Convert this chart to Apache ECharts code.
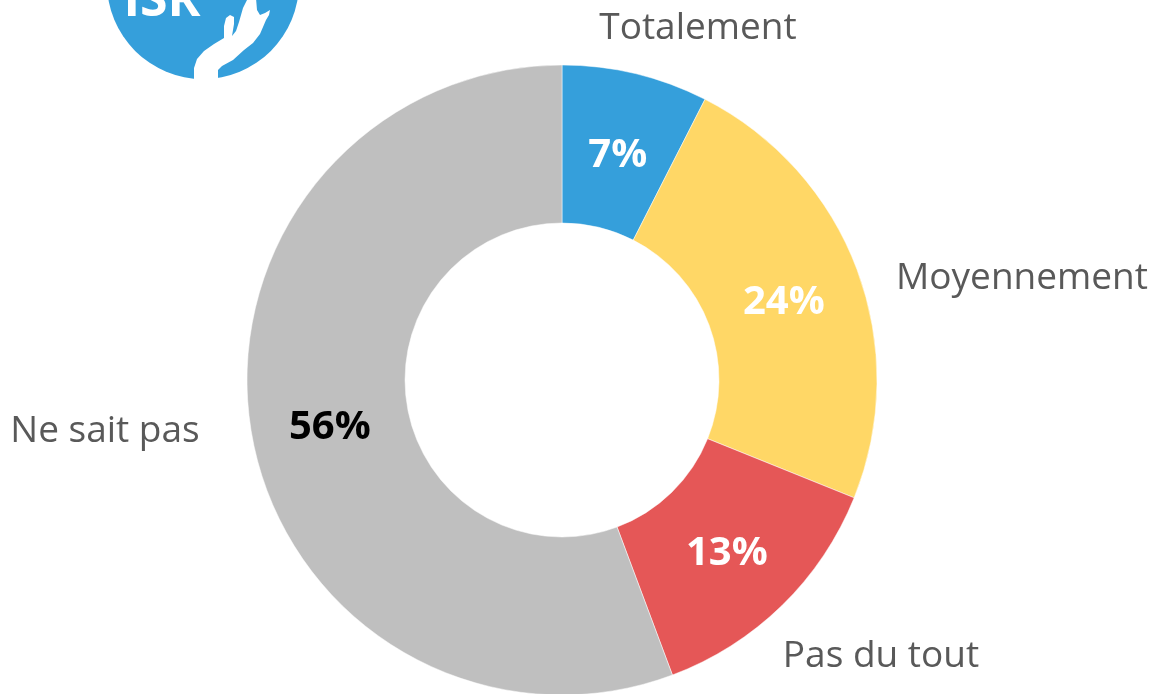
<!DOCTYPE html>
<html><head><meta charset="utf-8">
<style>html,body{margin:0;padding:0;background:#fff}#c{width:1155px;height:694px}</style>
<script src="https://cdn.jsdelivr.net/npm/echarts@6/dist/echarts.min.js"></script>
</head><body><div id="c"></div>
<script>
const categories = ['Totalement','Moyennement','Pas du tout','Ne sait pas'];
const values = [7.5,23.6,13.2,55.7];
const percentLabels = ['7%','24%','13%','56%'];
const colors = ['#359FDB','#FFD766','#E55757','#BFBFBF'];
const labelColors = ['#fff','#fff','#fff','#000'];
const labelOffsets = [[0,8],[-2,6],[-2,3],[3,5]];
const font = 'Open Sans, Noto Sans, sans-serif';
const handOutline = [[194,79],[194,68],[197,59],[204,51],[214,44],[224,38],[224,26],[226,18],[230,15],[234,17],[234,24],[232,36],[236,31],[239,22],[243,8],[248,-2],[256,-2],[257,10],[260,15],[265,13],[270,10],[269,15],[266,20],[260,34],[253,43],[244,50],[233,60],[222,66],[218,70],[218,79]];
const chart = echarts.init(document.getElementById('c'));
chart.setOption({
  animation:false,
  backgroundColor:'#fff',
  series:[{
    type:'pie',
    center:[562,380],
    radius:[157,315],
    startAngle:90,
    clockwise:true,
    silent:true,
    label:{position:'inside',fontFamily:font,fontSize:40,fontWeight:'bold',
      formatter:p=>percentLabels[p.dataIndex]},
    labelLine:{show:false},
    itemStyle:{borderColor:'#fff',borderWidth:0.5},
    data:categories.map((n,i)=>({name:n,value:values[i],
      itemStyle:{color:colors[i]},label:{color:labelColors[i],offset:labelOffsets[i]}}))
  }],
  graphic:[
    {type:'text',style:{text:categories[0],x:698,y:28,align:'center',verticalAlign:'middle',fontFamily:font,fontSize:37,fill:'#595959'}},
    {type:'text',style:{text:categories[1],x:1022,y:278,align:'center',verticalAlign:'middle',fontFamily:font,fontSize:37,fill:'#595959'}},
    {type:'text',style:{text:categories[2],x:881,y:656,align:'center',verticalAlign:'middle',fontFamily:font,fontSize:37,fill:'#595959'}},
    {type:'text',style:{text:categories[3],x:105,y:431,align:'center',verticalAlign:'middle',fontFamily:font,fontSize:37,fill:'#595959'}},
    {type:'circle',shape:{cx:203,cy:-17,r:96},style:{fill:'#359FDB'}},
    {type:'text',style:{text:'ISR',x:162,y:2,align:'center',verticalAlign:'middle',fontFamily:font,fontSize:50,fontWeight:'bold',fill:'#fff'}},
    {type:'polygon',shape:{points:handOutline},style:{fill:'#fff'}}
  ]
});
</script></body></html>
